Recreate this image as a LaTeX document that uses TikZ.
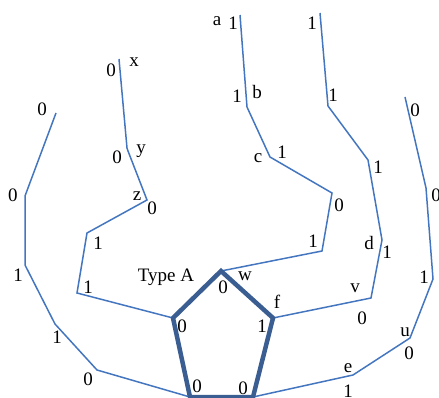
\documentclass[tikz,border=0pt]{standalone}
\usepackage{fontspec}
\setmainfont{Liberation Serif}
\definecolor{thinblue}{RGB}{68,118,192}
\definecolor{thickblue}{RGB}{58,94,145}
\tikzset{
  thinpath/.style={draw=thinblue, line width=1.5pt, line join=miter},
  thickpath/.style={draw=thickblue, line width=4.5pt, line join=miter},
  lbl/.style={inner sep=0pt, font=\fontsize{19}{21}\selectfont, text=black}
}
\begin{document}
\begin{tikzpicture}[x=1pt,y=-1pt]
\useasboundingbox (0,0) rectangle (439,398);
\clip (0,0) rectangle (439,398);
% pentagon vertices
\coordinate (T) at (221,271);
\coordinate (R) at (273,318);
\coordinate (BR) at (253,397);
\coordinate (BL) at (190,397);
\coordinate (L) at (173,318);
% path 1
\coordinate (p1a) at (56,113);
\coordinate (p1b) at (25,196);
\coordinate (p1c) at (25,265);
\coordinate (p1d) at (55,324);
\coordinate (p1e) at (97,370);
% path 2
\coordinate (p2a) at (119,59);
\coordinate (p2b) at (127,148);
\coordinate (p2c) at (128,151);
\coordinate (p2d) at (147,200);
\coordinate (p2e) at (87,233);
\coordinate (p2f) at (77,293);
% path 3
\coordinate (p3a) at (240,15);
\coordinate (p3b) at (247,107);
\coordinate (p3c) at (270,157);
\coordinate (p3d) at (332,193);
\coordinate (p3e) at (322,251);
% path 4
\coordinate (p4a) at (320,13);
\coordinate (p4b) at (328,106);
\coordinate (p4c) at (368,160);
\coordinate (p4d) at (382,240);
\coordinate (p4e) at (371,298);
% path 5
\coordinate (p5a) at (405,97);
\coordinate (p5b) at (426,188);
\coordinate (p5c) at (433,279);
\coordinate (p5d) at (410,338);
\coordinate (p5e) at (353,375);

\draw[thinpath] (p1a) -- (p1b) -- (p1c) -- (p1d) -- (p1e) -- (BL);
\draw[thinpath] (p2a) -- (p2b) -- (p2c) -- (p2d) -- (p2e) -- (p2f) -- (L);
\draw[thinpath] (p3a) -- (p3b) -- (p3c) -- (p3d) -- (p3e) -- (T);
\draw[thinpath] (p4a) -- (p4b) -- (p4c) -- (p4d) -- (p4e) -- (R);
\draw[thinpath] (p5a) -- (p5b) -- (p5c) -- (p5d) -- (p5e) -- (BR);
\draw[thickpath] (T) -- (R) -- (BR) -- (BL) -- (L) -- cycle;

% labels path 1
\node[lbl] (l1a) at (42,109) {0};
\node[lbl] (l1b) at (13,195) {0};
\node[lbl] (l1c) at (18,275) {1};
\node[lbl] (l1d) at (57,337) {1};
\node[lbl] (l1e) at (88,379) {0};
% labels path 2
\node[lbl] (lx) at (134,62) {x};
\node[lbl] (l2a) at (111,70) {0};
\node[lbl] (ly) at (141,151) {y};
\node[lbl] (l2b) at (117,157) {0};
\node[lbl] (lz) at (137,196) {z};
\node[lbl] (l2c) at (152,208) {0};
\node[lbl] (l2d) at (98,243) {1};
\node[lbl] (l2e) at (88,287) {1};
% labels path 3
\node[lbl] (la) at (217,21) {a};
\node[lbl] (l3a) at (233,23) {1};
\node[lbl] (l3b) at (237,96) {1};
\node[lbl] (lb) at (257,92) {b};
\node[lbl] (lc) at (258,158) {c};
\node[lbl] (l3c) at (282,152) {1};
\node[lbl] (l3d) at (339,205) {0};
\node[lbl] (l3e) at (313,241) {1};
% labels path 4
\node[lbl] (l4a) at (312,23) {1};
\node[lbl] (l4b) at (333,95) {1};
\node[lbl] (l4c) at (378,167) {1};
\node[lbl] (ld) at (369,243) {d};
\node[lbl] (l4d) at (387,252) {1};
\node[lbl] (lv) at (355,288) {v};
\node[lbl] (l4e) at (362,318) {0};
% labels path 5
\node[lbl] (l5a) at (415,110) {0};
\node[lbl] (l5b) at (436,195) {0};
\node[lbl] (l5c) at (424,277) {1};
\node[lbl] (lu) at (405,332) {u};
\node[lbl] (l5d) at (409,353) {0};
\node[lbl] (le) at (348,368) {e};
\node[lbl] (l5e) at (348,391) {1};
% pentagon labels
\node[lbl] (ltype) at (166,277) {Type A};
\node[lbl] (lT) at (223,287) {0};
\node[lbl] (lw) at (245,276) {w};
\node[lbl] (lf) at (277,302) {f};
\node[lbl] (lR) at (262,326) {1};
\node[lbl] (lL) at (182,326) {0};
\node[lbl] (lBL) at (197,386) {0};
\node[lbl] (lBR) at (243,388) {0};
\end{tikzpicture}
\end{document}
